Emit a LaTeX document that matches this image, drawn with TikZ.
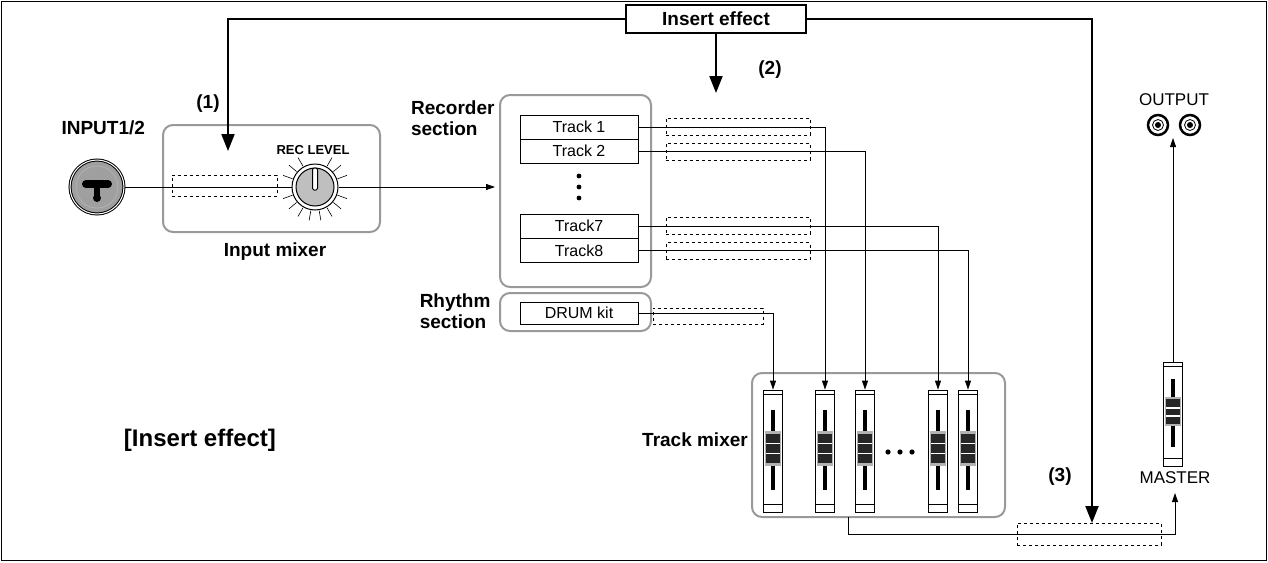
\documentclass[tikz,border=0pt]{standalone}
\usepackage{fontspec}
\setmainfont{Liberation Sans}
\usetikzlibrary{arrows.meta}
\begin{document}
\begin{tikzpicture}[x=1pt,y=-1pt,
  lbl/.style={font=\fontsize{19}{21}\selectfont\bfseries,align=center},
  grp/.style={draw=gray!80,line width=2pt,rounded corners=10pt},
  trk/.style={draw,line width=0.8pt,minimum width=118pt,minimum height=24pt,inner sep=0pt,font=\fontsize{16}{18}\selectfont},
  ins/.style={draw,dashed,line width=0.8pt,inner sep=0pt},
  thin/.style={line width=0.8pt},
  big/.style={line width=2pt,-{Triangle[width=13pt,length=17pt]}},
  sm/.style={line width=0.8pt,-{Triangle[width=6pt,length=9pt]}}]
\useasboundingbox (0,0) rectangle (1268,562);
\draw[line width=0.8pt] (1.5,1.5) rectangle (1266.5,560.5);
% insert effect
\node[draw,line width=1.5pt,minimum width=180pt,minimum height=28pt,lbl] (ie) at (716,19) {Insert effect};
% input
\node[lbl,anchor=west] (inl) at (58,128) {INPUT1/2};
\node[circle,draw,line width=1pt,fill=gray!75,minimum size=54pt,double=white,double distance=1pt] (jack) at (97,187) {};
\node[circle,draw=gray!60,line width=0.8pt,minimum size=42pt] at (97,187) {};
\fill (86,184) circle (4pt) (108,184) circle (4pt) (97,198) circle (4pt);
\fill (86,180) rectangle (108,188);
\fill (94,184) rectangle (100,198);
\node[grp,minimum width=217pt,minimum height=107pt] (im) at (271.5,178.5) {};
\node[ins,minimum width=105pt,minimum height=21pt] (d1) at (224.5,185.5) {};
\foreach \a in {-60,-40,...,240} \draw[line width=0.6pt] (315,187) ++(\a:24) -- ++(\a:10);
\node[circle,draw,line width=1pt,fill=white,minimum size=46pt,inner sep=0pt] (knob) at (315,187) {};
\node[circle,draw,line width=1pt,fill=gray!50,minimum size=38pt,inner sep=0pt] at (315,187) {};
\draw[line width=1pt,fill=white,rounded corners=1.5pt] (312.5,168) rectangle (317.5,190);
\node[font=\fontsize{13}{15}\selectfont\bfseries] (rl) at (313,150) {REC LEVEL};
\node[lbl] (iml) at (275,252) {Input mixer};
\node[lbl] (p1) at (208,104) {(1)};
\draw[thin] (jack.east) -- (knob.west);
% recorder
\node[lbl,align=left,anchor=east] (rs) at (498,118) {Recorder\\section};
\node[grp,minimum width=151pt,minimum height=192pt] (rec) at (575.5,191) {};
\node[trk] (t1) at (579,127) {Track 1};
\node[trk] (t2) at (579,151) {Track 2};
\node[trk] (t7) at (579,226) {Track7};
\node[trk] (t8) at (579,250.5) {Track8};
\foreach \y in {176,187,198} \fill (579,\y) circle (2.4pt);
\draw[sm] (knob.east) -- (495,187) coordinate (ra);
\node[ins,minimum width=144pt,minimum height=17pt] (d2) at (738,126.5) {};
\node[ins,minimum width=144pt,minimum height=17pt] (d3) at (738,151.5) {};
\node[ins,minimum width=144pt,minimum height=17pt] (d4) at (738,225.5) {};
\node[ins,minimum width=144pt,minimum height=17pt] (d5) at (738,251) {};
\node[lbl] (p2) at (770,70) {(2)};
% rhythm
\node[lbl,align=left,anchor=east] (rhs) at (494,311) {Rhythm\\section};
\node[grp,minimum width=151pt,minimum height=38pt] (rh) at (575.5,312) {};
\node[trk,minimum height=22pt] (dk) at (579,313) {DRUM kit};
\node[ins,minimum width=110pt,minimum height=16pt] (d6) at (708,316) {};
% track mixer
\node[grp,minimum width=253pt,minimum height=144pt] (tm) at (878.5,445) {};
\node[lbl] (tml) at (695,440) {Track mixer};
\foreach \x in {888,900,912} \fill (\x,452) circle (2.6pt);
\newcommand\myfader[4]{%
  \node[draw,line width=0.8pt,fill=white,minimum width=19pt,minimum height=#3pt,inner sep=0pt] (#4) at (#1,#2+#3/2) {};
  \draw[thin] (#1-9.5,#2+4) -- (#1+9.5,#2+4) (#1-9.5,#2+#3-8) -- (#1+9.5,#2+#3-8);
  \fill (#1-2,#2+0.16*#3) rectangle (#1+2,#2+0.82*#3);
  \fill[gray!60] (#1-8,#2+0.34*#3) rectangle (#1+8,#2+0.62*#3);
  \fill[gray!30!black] (#1-7,#2+0.36*#3) rectangle (#1+7,#2+0.60*#3);
  \draw[white,line width=1.5pt] (#1-7,#2+0.44*#3) -- (#1+7,#2+0.44*#3) (#1-7,#2+0.52*#3) -- (#1+7,#2+0.52*#3);
}
\myfader{773}{390}{122}{f1}
\myfader{825}{390}{122}{f2}
\myfader{865}{390}{122}{f3}
\myfader{938}{390}{122}{f4}
\myfader{968}{390}{122}{f5}
\myfader{1173}{362}{104}{fm}
% track routing
\draw[sm] (t1.east) -| (f2.north);
\draw[sm] (t2.east) -| (f3.north);
\draw[sm] (t7.east) -| (f4.north);
\draw[sm] (t8.east) -| (f5.north);
\draw[sm] (dk.east) -| (f1.north);
% master
\node[ins,minimum width=144pt,minimum height=22pt] (d7) at (1089,534) {};
\coordinate (tmb) at (848,517);
\draw[sm] (tmb) |- (1175,534) -- (1175,493) coordinate (ma);
\node[font=\fontsize{17}{19}\selectfont] (mst) at (1175,478) {MASTER};
\node[lbl] (p3) at (1060,477) {(3)};
\node[font=\fontsize{17}{19}\selectfont] (out) at (1174,100) {OUTPUT};
\foreach \x/\n in {1158/o1,1190/o2}{
  \node[circle,draw,line width=2.5pt,minimum size=20pt,inner sep=0pt] (\n) at (\x,125) {};
  \draw[line width=0.8pt] (\x,125) circle (5.5pt);
  \fill (\x,125) circle (3pt);}
\draw[sm] (fm.north) -- (1173,138) coordinate (oa);
% insert effect routing
\draw[big] (ie.west) -| (228,151);
\draw[big] (ie.east) -| (1092,523);
\draw[big] (ie.south) -- (716,93);
\node[font=\fontsize{24}{26}\selectfont\bfseries] (title) at (200,440) {[Insert effect]};
\end{tikzpicture}
\end{document}
